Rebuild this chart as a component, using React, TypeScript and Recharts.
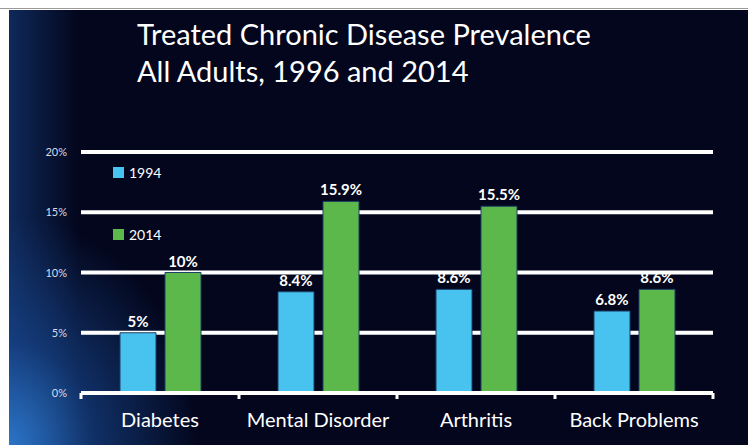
import { BarChart, Bar, XAxis, YAxis, CartesianGrid, Legend, LabelList } from 'recharts';

const categories = ['Diabetes', 'Mental Disorder', 'Arthritis', 'Back Problems'];
const values1994 = [5, 8.4, 8.6, 6.8];
const values2014 = [10, 15.9, 15.5, 8.6];
const yTicks = [0, 5, 10, 15, 20];
const seriesNames = ['1994', '2014'];
const titleLines = ['Treated Chronic Disease Prevalence', 'All Adults, 1996 and 2014'];

const BLUE = '#48c3ef';
const GREEN = '#5cb84a';
const FONT = 'Lato, "Open Sans", sans-serif';

const CHART_W = 739;
const CHART_H = 435;
const MARGIN = { top: 142, right: 35, left: 0, bottom: 0 };
const Y_WIDTH = 72;
const PLOT_W = CHART_W - MARGIN.right - MARGIN.left - Y_WIDTH;

const data = categories.map((name, i) => ({
  name,
  y1994: values1994[i],
  y2014: values2014[i],
}));

const fmt = (v: number) => `${v}%`;

function YTick({ x, y, payload }: any) {
  return (
    <text x={x - 6} y={y + 4} textAnchor="end" fill="#d6dcea" fontSize={11} fontFamily={FONT}>
      {fmt(payload.value)}
    </text>
  );
}

// category label plus tick marks on the band edges instead of the centres
function XTick({ x, y, payload, index }: any) {
  const band = PLOT_W / categories.length;
  const left = x - band / 2;
  const axisY = y - 8;
  return (
    <g>
      <line x1={left} x2={left} y1={axisY} y2={axisY + 6} stroke="#fff" strokeWidth={3} />
      {index === categories.length - 1 && (
        <line x1={left + band} x2={left + band} y1={axisY} y2={axisY + 6} stroke="#fff" strokeWidth={3} />
      )}
      <text x={x} y={y + 26} textAnchor="middle" fill="#fff" fontSize={20} fontFamily={FONT}>
        {payload.value}
      </text>
    </g>
  );
}

function LegendBox() {
  const colors = [BLUE, GREEN];
  return (
    <div style={{ fontFamily: FONT }}>
      {seriesNames.map((s, i) => (
        <div key={s} style={{ display: 'flex', alignItems: 'center', height: 24, marginBottom: i === 0 ? 38 : 0 }}>
          <span style={{ width: 11, height: 11, background: colors[i], display: 'inline-block', marginRight: 5 }} />
          <span style={{ color: '#fff', fontSize: 14 }}>{s}</span>
        </div>
      ))}
    </div>
  );
}

export default function App() {
  return (
    <div style={{ position: 'absolute', left: 0, top: 0, width: 748, height: 445, background: '#fff', overflow: 'hidden' }}>
      <div style={{ position: 'absolute', left: 0, top: 8, width: 748, height: 1, background: '#9a9a9a' }} />
      <div
        style={{
          position: 'absolute',
          left: 9,
          top: 10,
          width: CHART_W,
          height: CHART_H,
          background:
            'radial-gradient(ellipse 190px 230px at 0% 100%, rgba(45,120,205,0.95), rgba(25,75,150,0.6) 45%, rgba(10,30,80,0) 100%),' +
            'linear-gradient(to right, rgba(25,70,140,0.55) 0px, rgba(10,30,80,0) 70px),' +
            '#03061c',
        }}
      >
        <div
          style={{
            position: 'absolute',
            left: 128,
            top: 5,
            color: '#fff',
            fontFamily: FONT,
            fontSize: 29,
            lineHeight: '37px',
          }}
        >
          {titleLines.map((t) => (
            <div key={t}>{t}</div>
          ))}
        </div>
        <BarChart width={CHART_W} height={CHART_H} data={data} margin={MARGIN} barSize={36} barGap={9}>
          <CartesianGrid vertical={false} stroke="#fff" strokeWidth={4} strokeOpacity={1} />
          <XAxis
            dataKey="name"
            height={52}
            axisLine={{ stroke: '#fff', strokeWidth: 4 }}
            tickLine={false}
            tick={<XTick />}
            interval={0}
          />
          <YAxis
            width={Y_WIDTH}
            domain={[0, 20]}
            ticks={yTicks}
            axisLine={false}
            tickLine={false}
            tick={<YTick />}
          />
          <Legend
            layout="horizontal"
            verticalAlign="middle"
            align="center"
            content={<LegendBox />}
            wrapperStyle={{ left: 104, top: 150, width: 80 }}
          />
          <Bar dataKey="y1994" name={seriesNames[0]} fill={BLUE} stroke="#1d3f66" strokeWidth={1} isAnimationActive={false}>
            <LabelList dataKey="y1994" position="top" formatter={(v: any) => fmt(v)} fill="#fff" fontSize={15} fontWeight={700} fontFamily={FONT} offset={6} />
          </Bar>
          <Bar dataKey="y2014" name={seriesNames[1]} fill={GREEN} stroke="#1d3f66" strokeWidth={1} isAnimationActive={false}>
            <LabelList dataKey="y2014" position="top" formatter={(v: any) => fmt(v)} fill="#fff" fontSize={15} fontWeight={700} fontFamily={FONT} offset={6} />
          </Bar>
        </BarChart>
      </div>
    </div>
  );
}
